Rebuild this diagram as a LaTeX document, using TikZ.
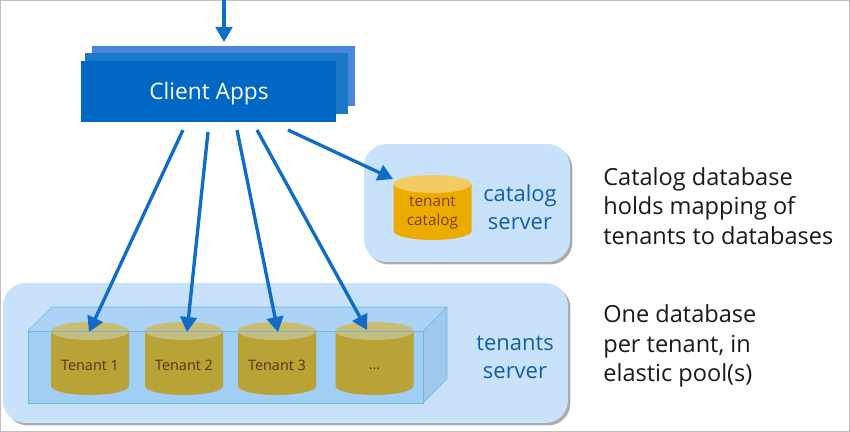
\documentclass[tikz,border=0pt]{standalone}
\usepackage{fontspec}
\setmainfont{Open Sans}
\usetikzlibrary{arrows.meta,shadows}

\definecolor{panelblue}{HTML}{C9E2FB}
\definecolor{boxedge}{HTML}{6FB9DD}
\definecolor{boxback}{HTML}{ABD3F5}
\definecolor{boxfront}{HTML}{A0CEF5}
\definecolor{boxside}{HTML}{A0C8EC}
\definecolor{arrowblue}{HTML}{0F6CC8}
\definecolor{serverblue}{HTML}{0F5FA8}
\definecolor{tenantbody}{HTML}{BD9E1C}
\definecolor{tenanttop}{HTML}{CBBC74}
\definecolor{tenanttext}{HTML}{5A3214}
\definecolor{catalogbody}{HTML}{EDAB00}
\definecolor{catalogtop}{HTML}{F3CB63}
\definecolor{catalogtext}{HTML}{7A3E00}
\definecolor{appback}{HTML}{4A85DC}
\definecolor{appmid}{HTML}{1B78C8}
\definecolor{appfront}{HTML}{0068C4}

% center x, top y, bottom y, body colour, top colour
\newcommand{\drum}[5]{
\fill[#4] (#1-39,#2+9) -- (#1-39,#3-9) arc[start angle=180,end angle=0,x radius=39,y radius=9] -- (#1+39,#2+9) -- cycle;
\fill[#5] (#1,#2+9) ellipse[x radius=39,y radius=9];
}

\tikzset{
  panel/.style={draw=none, fill=panelblue, rounded corners=.45cm, inner sep=0pt,
    drop shadow={shadow xshift=.05cm, shadow yshift=-.05cm, opacity=.55, fill=black!60}},
  appcard/.style={draw=none, inner sep=0pt, minimum width=5.26cm, minimum height=1.22cm},
  tenantlabel/.style={text=tenanttext, inner sep=0pt, font=\fontsize{8.2pt}{10.5pt}\selectfont},
  cataloglabel/.style={text=catalogtext, inner sep=0pt, align=center, font=\fontsize{8.7pt}{10.8pt}\selectfont},
  link/.style={arrowblue, line width=1.9pt, -{Triangle[length=.3cm,width=.33cm]}},
  servertext/.style={text=serverblue, align=center, font=\fontsize{12.5pt}{16pt}\selectfont},
  sidetext/.style={anchor=west, align=left, inner sep=0pt, text=black!90, font=\fontsize{13.4pt}{16.9pt}\selectfont}
}

\begin{document}
\begin{tikzpicture}[x=.02cm,y=-.02cm]
\useasboundingbox (0,0) rectangle (850,432);
\draw[black!25, line width=1pt] (0,0) rectangle (850,432);

\node[panel, minimum width=11.3cm, minimum height=2.8cm] (tenantspanel) at (285.5,353) {};
\node[panel, minimum width=4.12cm, minimum height=2.36cm] (catalogpanel) at (467,203) {};

\fill[boxback] (28,331) -- (52,307) -- (447,307) -- (423,331) -- cycle;
\fill[boxfront] (28,331) rectangle (423,403);
\fill[boxside] (423,331) -- (447,307) -- (447,379) -- (423,403) -- cycle;
\draw[boxedge] (28,331) -- (52,307) -- (447,307) -- (447,379) -- (423,403);
\draw[boxedge] (447,307) -- (423,331);

\drum{90}{322}{395}{tenantbody}{tenanttop}
\drum{184}{322}{395}{tenantbody}{tenanttop}
\drum{277}{322}{395}{tenantbody}{tenanttop}
\drum{374.5}{322}{395}{tenantbody}{tenanttop}

\fill[boxfront, fill opacity=.12] (28,331) rectangle (423,403);
\draw[boxedge] (28,331) rectangle (423,403);

\node[tenantlabel] (tenant1) at (90,365) {Tenant 1};
\node[tenantlabel] (tenant2) at (184,365) {Tenant 2};
\node[tenantlabel] (tenant3) at (277,365) {Tenant 3};
\node[tenantlabel] (tenant4) at (374.5,369) {...};

\drum{432.5}{175}{240}{catalogbody}{catalogtop}
\node[cataloglabel] (catalog) at (432.5,213) {tenant\\catalog};

\node[servertext] (catalogname) at (520,207) {catalog\\server};
\node[servertext] (tenantsname) at (515,357) {tenants\\server};

\node[appcard, fill=appback] (appsback) at (223.5,76) {};
\node[appcard, fill=appmid] (appsmid) at (216.5,83.5) {};
\node[appcard, fill=appfront, minimum width=5.1cm] (apps) at (208.5,91.5) {};
\node[text=white, inner sep=0pt, font=\fontsize{12.9pt}{16pt}\selectfont] (appsname) at (209,94) {Client Apps};

\node[sidetext] (catalognote) at (603,206) {Catalog database\\holds mapping of\\tenants to databases};
\node[sidetext] (tenantnote) at (603,346) {One database\\per tenant, in\\elastic pool(s)};

\coordinate (entry) at (224,0);
\coordinate (appstop) at (224,42);
\coordinate (from1) at (183,130);
\coordinate (from2) at (208,132);
\coordinate (from3) at (237,130);
\coordinate (from4) at (257,130);
\coordinate (from5) at (288,130);
\coordinate (to1) at (89,332);
\coordinate (to2) at (187,332);
\coordinate (to3) at (278,332);
\coordinate (to4) at (367,330);
\coordinate (to5) at (393,179);

\draw[link] (entry) -- (appstop);
\draw[link] (from1) -- (to1);
\draw[link] (from2) -- (to2);
\draw[link] (from3) -- (to3);
\draw[link] (from4) -- (to4);
\draw[link] (from5) -- (to5);
\end{tikzpicture}
\end{document}
